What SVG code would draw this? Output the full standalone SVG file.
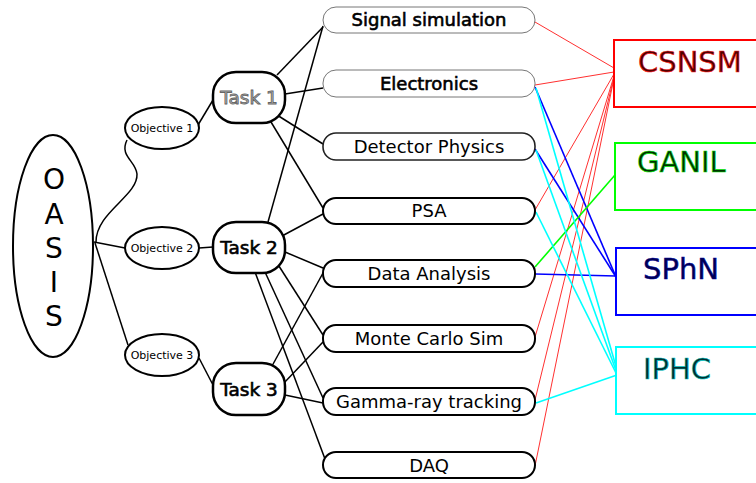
<svg xmlns="http://www.w3.org/2000/svg" width="756" height="483" viewBox="0 0 756 483">
<style>
text{font-family:"DejaVu Sans","Liberation Sans",sans-serif}
.ell{fill:#fff;stroke:#000;stroke-width:2}
.task{fill:#fff;stroke:#000;stroke-width:2.5}
.act{fill:#fff;stroke:#000;stroke-width:2}
.actg{fill:#fff;stroke:#777;stroke-width:1}
.at{font-size:18px;text-anchor:middle;fill:#000}
.tt{font-size:18.5px;text-anchor:middle;fill:#000;stroke:#000;stroke-width:0.6}
.ot{font-size:11px;text-anchor:middle;fill:#000}
.oas{font-size:28px;text-anchor:middle;fill:#000}
.org{fill:#fff;stroke-width:2}
.orgt{font-size:29px;stroke-width:0.8}
.k{stroke:#000;stroke-width:1.5;fill:none}
.r{stroke:#ff3030;stroke-width:1}
.b{stroke:#0000ff;stroke-width:1.6}
.c{stroke:#00ffff;stroke-width:1.6}
.g{stroke:#00ff00;stroke-width:1.6}
</style>
<g id="connectors">
<path class="k" d="M96,242 C96,212 138,196 137,174 C136,161 119,156 127,140"/>
<line class="k" x1="94" y1="242" x2="125" y2="248"/>
<line class="k" x1="95" y1="243" x2="128" y2="345"/>
<line class="k" x1="198" y1="125" x2="213" y2="100"/>
<line class="k" x1="199" y1="248" x2="213" y2="247"/>
<line class="k" x1="199" y1="358" x2="213" y2="385"/>
<line class="k" x1="277" y1="75" x2="323" y2="27"/>
<line class="k" x1="285" y1="94" x2="323" y2="88"/>
<line class="k" x1="277" y1="115" x2="323" y2="144"/>
<line class="k" x1="271" y1="122" x2="323" y2="208"/>
<line class="k" x1="268" y1="222" x2="323" y2="26"/>
<line class="k" x1="282" y1="236" x2="323" y2="214"/>
<line class="k" x1="285" y1="252" x2="323" y2="268"/>
<line class="k" x1="277" y1="263" x2="323" y2="335"/>
<line class="k" x1="265" y1="272" x2="323" y2="398"/>
<line class="k" x1="255" y1="272" x2="325" y2="459"/>
<line class="k" x1="272" y1="366" x2="323" y2="273"/>
<line class="k" x1="283" y1="384" x2="323" y2="342"/>
<line class="k" x1="285" y1="395" x2="323" y2="403"/>
<line class="r" x1="535" y1="22" x2="614" y2="68"/>
<line class="r" x1="535" y1="85" x2="614" y2="72"/>
<line class="r" x1="535" y1="210" x2="614" y2="74"/>
<line class="r" x1="535" y1="337" x2="614" y2="76"/>
<line class="r" x1="535" y1="400" x2="614" y2="77"/>
<line class="r" x1="535" y1="466" x2="614" y2="78"/>
<line class="b" x1="535" y1="87" x2="616" y2="277"/>
<line class="b" x1="535" y1="149" x2="616" y2="277"/>
<line class="b" x1="535" y1="274" x2="616" y2="276"/>
<line class="g" x1="535" y1="267" x2="615" y2="175"/>
<line class="c" x1="536" y1="88" x2="619" y2="377"/>
<line class="c" x1="536" y1="150" x2="618" y2="376"/>
<line class="c" x1="536" y1="212" x2="617" y2="375"/>
<line class="c" x1="536" y1="403" x2="617" y2="375"/>
</g>
<g id="oasis">
<ellipse class="ell" cx="53" cy="246" rx="40" ry="111"/>
<text class="oas" x="54" y="189">O</text>
<text class="oas" x="54" y="224">A</text>
<text class="oas" x="54" y="258">S</text>
<text class="oas" x="54" y="292">I</text>
<text class="oas" x="54" y="326">S</text>
</g>
<g id="objective1"><ellipse class="ell" cx="162" cy="128" rx="37" ry="21"/><text class="ot" x="162" y="132">Objective 1</text></g>
<g id="objective2"><ellipse class="ell" cx="162" cy="248" rx="37" ry="21"/><text class="ot" x="162" y="252">Objective 2</text></g>
<g id="objective3"><ellipse class="ell" cx="162" cy="355" rx="37" ry="21"/><text class="ot" x="162" y="359">Objective 3</text></g>
<g id="task1"><rect class="task" x="213" y="72" width="72" height="51" rx="23"/><text class="tt" x="249" y="104" style="fill:#bbb;stroke:#666;stroke-width:0.9">Task 1</text></g>
<g id="task2"><rect class="task" x="213" y="222" width="72" height="51" rx="23"/><text class="tt" x="249" y="254">Task 2</text></g>
<g id="task3"><rect class="task" x="213" y="363" width="72" height="52" rx="23"/><text class="tt" x="249" y="396">Task 3</text></g>
<g id="signal"><rect class="actg" x="323" y="7" width="212" height="26" rx="13"/><text class="at" x="429" y="26" style="stroke:#000;stroke-width:0.6">Signal simulation</text></g>
<g id="electronics"><rect class="actg" x="323" y="70" width="212" height="27" rx="13"/><text class="at" x="429" y="90" style="stroke:#000;stroke-width:0.6">Electronics</text></g>
<g id="detector"><rect class="act" x="323" y="133" width="212" height="27" rx="13" style="stroke:#222;stroke-width:1.6"/><text class="at" x="429" y="153">Detector Physics</text></g>
<g id="psa"><rect class="act" x="323" y="198" width="212" height="26" rx="13"/><text class="at" x="429" y="217">PSA</text></g>
<g id="data"><rect class="act" x="323" y="260" width="212" height="27" rx="13"/><text class="at" x="429" y="280">Data Analysis</text></g>
<g id="montecarlo"><rect class="act" x="323" y="325" width="212" height="27" rx="13"/><text class="at" x="429" y="345">Monte Carlo Sim</text></g>
<g id="gamma"><rect class="act" x="323" y="388" width="212" height="27" rx="13"/><text class="at" x="429" y="408">Gamma-ray tracking</text></g>
<g id="daq"><rect class="act" x="323" y="452" width="212" height="26" rx="13"/><text class="at" x="429" y="472">DAQ</text></g>
<g id="csnsm"><rect class="org" x="614" y="40" width="160" height="67" style="stroke:#ff0000"/><text class="orgt" x="638" y="72" style="fill:#500000;stroke:#ff2020;stroke-width:0.6">CSNSM</text></g>
<g id="ganil"><rect class="org" x="615" y="143" width="160" height="67" style="stroke:#00ff00"/><text class="orgt" x="637" y="172" style="fill:#003000;stroke:#00e000;stroke-width:0.6">GANIL</text></g>
<g id="sphn"><rect class="org" x="616" y="248" width="160" height="67" style="stroke:#0000ff"/><text class="orgt" x="643" y="279" style="fill:#000050;stroke:#0000a0;stroke-width:0.5">SPhN</text></g>
<g id="iphc"><rect class="org" x="616" y="347" width="160" height="67" style="stroke:#00ffff"/><text class="orgt" x="643" y="379" style="fill:#003030;stroke:#00c0c0;stroke-width:0.6">IPHC</text></g>
</svg>
